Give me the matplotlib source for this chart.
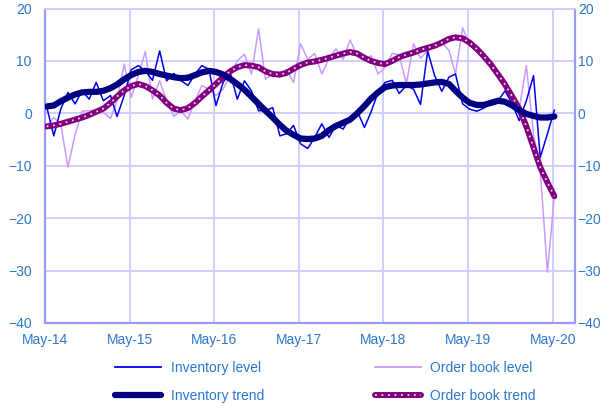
import pandas as pd
import matplotlib
matplotlib.use('Agg')
import matplotlib.pyplot as plt
import matplotlib.dates as mdates
from matplotlib.legend_handler import HandlerTuple

plt.rcParams['font.family'] = ['Liberation Sans', 'DejaVu Sans']

# monthly data, May-14 .. May-20
months = pd.date_range('2014-05-01', periods=73, freq='MS') + pd.Timedelta(days=7)

inventory_level = [1.3, -4.3, 0.8, 4.0, 1.8, 4.3, 2.7, 5.9, 2.4, 3.4, -0.6, 3.4,
                   8.3, 9.1, 8.1, 6.3, 11.9, 6.2, 7.6, 6.3, 5.3, 7.5, 9.1, 8.4,
                   1.5, 5.9, 7.8, 2.7, 6.2, 4.3, 0.5, 0.5, 1.1, -4.3, -3.9, -2.3,
                   -5.8, -6.7, -4.6, -2.0, -4.6, -2.3, -3.0, -0.8, 0.4, -2.7, 0.2, 4.0,
                   5.9, 6.3, 3.8, 5.3, 4.6, 1.7, 11.9, 7.2, 4.2, 6.9, 7.5, 1.8,
                   0.8, 0.4, 1.0, 1.8, 2.4, 4.3, 1.8, -1.4, 2.4, 7.2, -8.4, -3.9, 0.6]

order_level = [-2.5, -0.8, -2.0, -10.3, -4.0, 0.4, 0.5, 0.6, 0.2, -1.0, 2.4, 9.4,
               3.0, 7.2, 11.8, 2.7, 6.2, 2.4, -0.6, 0.5, -1.1, 2.4, 5.3, 4.6,
               3.4, 4.6, 7.2, 10.0, 11.3, 7.5, 16.1, 6.5, 7.5, 6.9, 8.4, 5.9,
               13.3, 10.3, 11.4, 7.5, 10.5, 12.3, 10.3, 14.0, 11.0, 10.0, 11.0, 7.5,
               8.8, 11.4, 11.2, 5.6, 13.3, 10.5, 12.0, 12.8, 13.5, 12.0, 7.5, 16.3,
               13.0, 12.0, 11.0, 9.0, 8.0, 5.0, 3.0, 0.8, 9.1, -4.0, -11.0, -30.3, -15.7]

inventory_trend = [1.3, 1.5, 2.3, 3.0, 3.6, 4.0, 4.1, 4.1, 4.3, 4.8, 5.5, 6.5,
                   7.3, 7.9, 8.1, 7.9, 7.5, 7.2, 6.9, 6.7, 6.8, 7.3, 7.8, 8.1,
                   7.9, 7.4, 6.6, 5.6, 4.5, 3.2, 1.8, 0.5, -0.8, -2.2, -3.3, -4.1,
                   -4.8, -4.9, -4.8, -4.3, -3.2, -2.4, -1.8, -1.2, 0.0, 1.4, 2.8, 4.0,
                   5.0, 5.3, 5.4, 5.4, 5.4, 5.5, 5.7, 5.9, 6.0, 5.6, 4.3, 3.0,
                   2.0, 1.6, 1.6, 2.0, 2.4, 2.2, 1.5, 0.6, -0.1, -0.5, -0.8, -0.8, -0.6]

order_trend = [-2.5, -2.3, -2.0, -1.6, -1.2, -0.8, -0.3, 0.3, 0.9, 2.0, 3.2, 4.4,
               5.2, 5.6, 5.2, 4.4, 3.4, 2.0, 0.9, 0.6, 1.0, 2.0, 3.2, 4.4,
               5.6, 6.9, 8.0, 8.8, 9.2, 9.1, 8.8, 8.0, 7.5, 7.4, 7.7, 8.5,
               9.2, 9.7, 9.9, 10.2, 10.6, 11.0, 11.4, 11.7, 11.4, 10.6, 10.0, 9.6,
               9.4, 10.0, 10.7, 11.2, 11.6, 12.1, 12.5, 12.9, 13.5, 14.2, 14.5, 14.3,
               13.5, 12.3, 10.9, 9.3, 7.4, 5.5, 3.2, 0.9, -2.5, -6.5, -10.3, -13.2, -15.8]

label_col = '#2B78CF'
grid_col = '#CCCCFF'
spine_col = '#9999FF'
dot_col = '#F0D6F0'

fig = plt.figure(figsize=(6.01, 4.09), dpi=100)
ax = fig.add_axes([45/601, 1-323/409, 530/601, 314.5/409])

ax.plot(months, inventory_level, color='#0000EE', lw=1.1, zorder=3)
ax.plot(months, order_level, color='#CC99FF', lw=1.1, zorder=2)
ax.plot(months, inventory_trend, color='#000080', lw=4.5,
        solid_capstyle='round', zorder=5)
ax.plot(months, order_trend, color='#800080', lw=4.3,
        solid_capstyle='round', zorder=4)
ax.plot(months, order_trend, color=dot_col, lw=1.3,
        linestyle=(0, (1, 2.6)), zorder=4.5)

ax.set_ylim(-40, 20)
ax.set_xlim(pd.Timestamp('2014-05-01'), pd.Timestamp('2020-08-05'))
ax.set_yticks(range(-40, 21, 10))
ax.xaxis.set_major_locator(mdates.MonthLocator(bymonth=5))
ax.xaxis.set_major_formatter(mdates.DateFormatter('%b-%y'))
ax.grid(True, color=grid_col, lw=1.3)
ax.set_axisbelow(True)
for s in ['left', 'right', 'bottom']:
    ax.spines[s].set_color(spine_col)
    ax.spines[s].set_linewidth(1.6)
ax.spines['top'].set_color(grid_col)
ax.spines['top'].set_linewidth(1.3)
ax.tick_params(axis='x', length=0, pad=7, labelsize=10, labelcolor=label_col)
ax.tick_params(axis='y', length=0, pad=9.5, labelsize=10, labelcolor=label_col)

ax2 = ax.twinx()
ax2.set_ylim(-40, 20)
ax2.set_yticks(range(-40, 21, 10))
ax2.tick_params(axis='y', length=0, pad=2, labelsize=10, labelcolor=label_col)
for s in ax2.spines.values():
    s.set_visible(False)

# legend (column-major order so rows read level / trend)
inv_lvl_h = plt.Line2D([], [], color='#0000EE', lw=1.3)
ob_lvl_h = plt.Line2D([], [], color='#CC99FF', lw=1.3)
inv_tr_h = plt.Line2D([], [], color='#000080', lw=4.5, solid_capstyle='round')
ob_tr_h = plt.Line2D([], [], color='#800080', lw=4.3, solid_capstyle='round')
ob_dot_h = plt.Line2D([], [], color=dot_col, lw=1.3, linestyle=(0, (1, 2.6)))
leg = fig.legend([inv_lvl_h, inv_tr_h, ob_lvl_h, (ob_tr_h, ob_dot_h)],
                 ['Inventory level', 'Inventory trend', 'Order book level', 'Order book trend'],
                 handler_map={tuple: HandlerTuple(ndivide=1, pad=0)},
                 ncol=2, frameon=False, loc='upper left',
                 bbox_to_anchor=(115/601, 1-361/409), borderpad=0, borderaxespad=0,
                 handlelength=3.3, handletextpad=0.7, columnspacing=8.0,
                 labelspacing=1.0, fontsize=10, labelcolor=label_col)

fig.savefig('out.png', dpi=100)
